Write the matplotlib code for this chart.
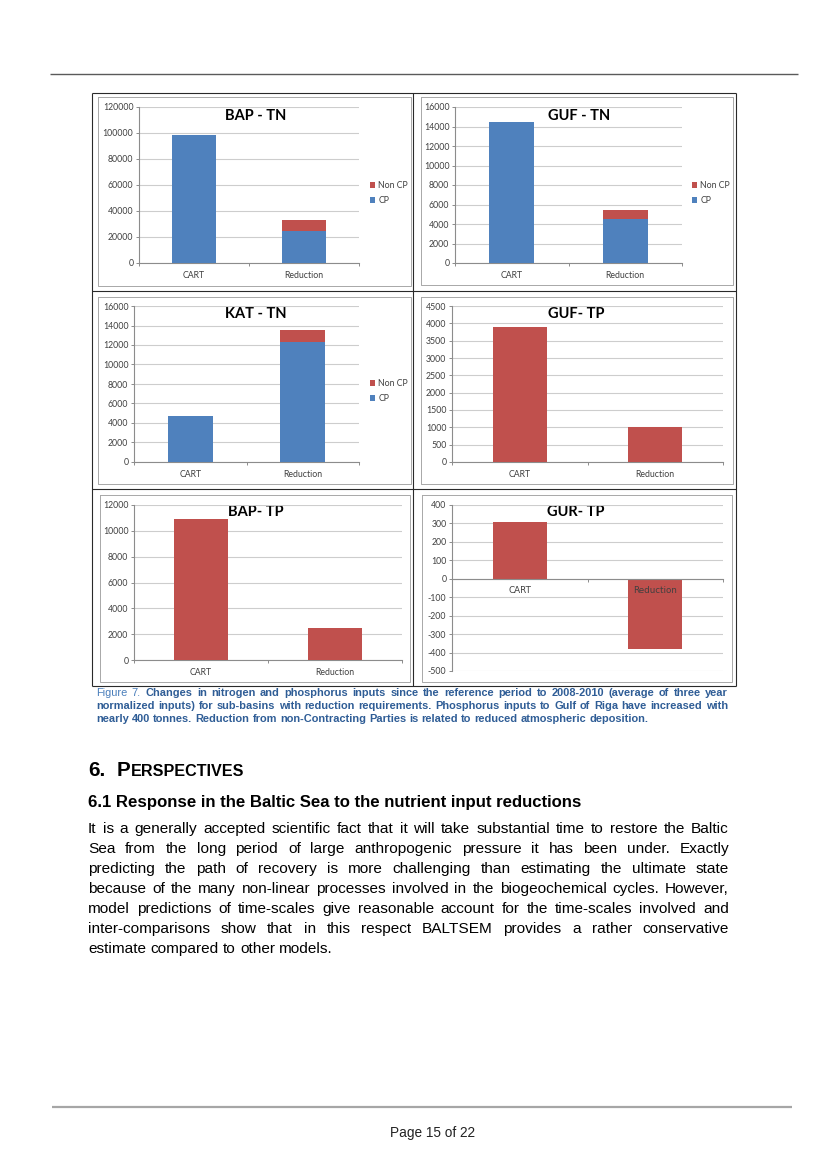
import matplotlib
matplotlib.use('Agg')
import matplotlib.pyplot as plt
import numpy as np

# ---------------- data ----------------
categories = ['CART', 'Reduction']

bap_tn_cp = [98500, 25000]
bap_tn_noncp = [0, 8000]
guf_tn_cp = [14450, 4550]
guf_tn_noncp = [0, 850]
kat_tn_cp = [4750, 12300]
kat_tn_noncp = [0, 1250]
guf_tp = [3900, 1000]
bap_tp = [10900, 2450]
gur_tp = [310, -380]

titles = ['BAP - TN', 'GUF - TN', 'KAT - TN', 'GUF- TP', 'BAP- TP', 'GUR- TP']
legend_labels = ['Non CP', 'CP']

caption_lines = [
    "Figure 7. Changes in nitrogen and phosphorus inputs since the reference period to 2008-2010 (average of three year",
    "normalized inputs) for sub-basins with reduction requirements. Phosphorus inputs to Gulf of Riga have increased with",
    "nearly 400 tonnes. Reduction from non-Contracting Parties is related to reduced atmospheric deposition.",
]
heading_num = "6."
heading_text = "PERSPECTIVES"
subheading = "6.1 Response in the Baltic Sea to the nutrient input reductions"
body_lines = [
    "It is a generally accepted scientific fact that it will take substantial time to restore the Baltic",
    "Sea from the long period of large anthropogenic pressure it has been under. Exactly",
    "predicting the path of recovery is more challenging than estimating the ultimate state",
    "because of the many non-linear processes involved in the biogeochemical cycles. However,",
    "model predictions of time-scales give reasonable account for the time-scales involved and",
    "inter-comparisons show that in this respect BALTSEM provides a rather conservative",
    "estimate compared to other models.",
]
page_text = "Page 15 of 22"

# ---------------- style ----------------
plt.rcParams['axes.unicode_minus'] = False
BLUE = '#4F81BD'
RED = '#C0504D'
TICKC = '#404040'
AXC = '#8c8c8c'
GRIDC = '#cdcdcd'
CHART_FONT = ['Lato', 'DejaVu Sans']
DOC_FONT = ['Liberation Sans', 'DejaVu Sans']

W, H = 827, 1170
fig = plt.figure(figsize=(W / 100, H / 100), dpi=100)
bg = fig.add_axes([0, 0, 1, 1], zorder=0)
bg.set_xlim(0, W)
bg.set_ylim(H, 0)
bg.axis('off')
renderer = fig.canvas.get_renderer()


def rect(x0, y0, x1, y1):
    return [x0 / W, 1 - y1 / H, (x1 - x0) / W, (y1 - y0) / H]


def hline(x0, x1, y, **kw):
    bg.plot([x0, x1], [y, y], solid_capstyle='butt', **kw)


def vline(x, y0, y1, **kw):
    bg.plot([x, x], [y0, y1], solid_capstyle='butt', **kw)


# header / footer rules
hline(50, 798, 74, color='#5a5a5a', lw=1.0)
hline(52, 792, 1107, color='#a6a6a6', lw=1.6)

# table grid
for y in [93, 291, 489, 686]:
    hline(92, 736, y, color='#2a2a2a', lw=0.8)
for x in [92, 413, 736]:
    vline(x, 93, 686, color='#2a2a2a', lw=0.8)

# inner chart frames
frames = [(98, 97, 411, 286), (421, 97, 733, 285), (98, 297, 411, 484),
          (421, 297, 733, 484), (100, 495, 410, 682), (422, 495, 732, 682)]
for (x0, y0, x1, y1) in frames:
    bg.plot([x0, x1, x1, x0, x0], [y0, y0, y1, y1, y0], color='#a8a8a8', lw=0.7)

ax_rects = [(139, 107, 359, 263), (455, 107, 682, 263), (134, 306, 359, 462),
            (452, 306, 723, 462), (134, 505, 402, 660), (452, 505, 723, 671)]
title_pos = [(256, 116), (579, 116), (256, 314), (576, 314), (256, 512), (576, 512)]
ylims = [(0, 120000, 20000), (0, 16000, 2000), (0, 16000, 2000),
         (0, 4500, 500), (0, 12000, 2000), (-500, 400, 100)]
legend_pos = [(370, 181), (692, 181), (370, 379)]


def style_axis(ax, lo, hi, step):
    ax.set_facecolor('none')
    ax.set_ylim(lo, hi)
    ax.set_yticks(np.arange(lo, hi + step / 2, step))
    ax.set_xlim(-0.5, 1.5)
    ax.set_xticks([0, 1])
    ax.set_xticklabels(categories)
    ax.set_xticks([-0.5, 0.5, 1.5], minor=True)
    ax.yaxis.grid(True, color=GRIDC, lw=0.8)
    ax.set_axisbelow(True)
    for s in ['top', 'right']:
        ax.spines[s].set_visible(False)
    for s in ['left', 'bottom']:
        ax.spines[s].set_color(AXC)
        ax.spines[s].set_linewidth(0.8)
    ax.tick_params(axis='y', length=2, width=0.7, color=AXC, pad=2,
                   labelsize=6.3, labelcolor=TICKC)
    ax.tick_params(axis='x', which='major', length=0, pad=5.5,
                   labelsize=6.3, labelcolor=TICKC)
    ax.tick_params(axis='x', which='minor', length=2.5, width=0.7, color=AXC)
    for lab in ax.get_xticklabels() + ax.get_yticklabels():
        lab.set_family(CHART_FONT)


axes = []
for i, r in enumerate(ax_rects):
    ax = fig.add_axes(rect(*r), zorder=2)
    axes.append(ax)

xpos = np.arange(len(categories))
stacked = [(bap_tn_cp, bap_tn_noncp), (guf_tn_cp, guf_tn_noncp), (kat_tn_cp, kat_tn_noncp)]
for i, (cp, ncp) in enumerate(stacked):
    ax = axes[i]
    b1 = ax.bar(xpos, cp, width=0.4, color=BLUE, label='CP', zorder=3)
    b2 = ax.bar(xpos, ncp, width=0.4, bottom=cp, color=RED, label='Non CP', zorder=3)
    lo, hi, st = ylims[i]
    style_axis(ax, lo, hi, st)
    lx, ly = legend_pos[i]
    ax.legend([b2, b1], legend_labels, loc='upper left',
              bbox_to_anchor=(lx / W, 1 - ly / H), bbox_transform=fig.transFigure,
              frameon=False, prop={'family': CHART_FONT, 'size': 6.3},
              handlelength=0.6, handleheight=0.6, handletextpad=0.35,
              labelspacing=0.7, borderpad=0, borderaxespad=0,
              labelcolor=TICKC)

for i, vals in zip([3, 4, 5], [guf_tp, bap_tp, gur_tp]):
    ax = axes[i]
    ax.bar(xpos, vals, width=0.4, color=RED, zorder=3)
    lo, hi, st = ylims[i]
    style_axis(ax, lo, hi, st)

# GUR-TP: category axis crosses at zero, labels drawn over the bars
axes[5].spines['bottom'].set_position(('data', 0))
axes[5].spines['bottom'].set_zorder(4)
axes[5].xaxis.set_zorder(4)

for (tx, ty), t in zip(title_pos, titles):
    bg.text(tx, ty, t, ha='center', va='center', fontsize=10.5, fontweight='bold',
            family=CHART_FONT, color='#000000', zorder=10)


# ---------------- document text ----------------
def text_width(s, size, **kw):
    t = bg.text(0, 0, s, fontsize=size, **kw)
    w = t.get_window_extent(renderer).width
    t.remove()
    return w


def fit_size(s, target, **kw):
    return 10 * target / text_width(s, 10, **kw)


def place_words(parts, x0, x1, y, size, justify=True):
    texts = []
    for w, kw in parts:
        texts.append(bg.text(0, y, w, fontsize=size, ha='left', va='center', **kw))
    widths = [t.get_window_extent(renderer).width for t in texts]
    if justify and len(texts) > 1:
        gap = (x1 - x0 - sum(widths)) / (len(texts) - 1)
    else:
        gap = 0.278 * size * 100 / 72
    x = x0
    for t, w in zip(texts, widths):
        t.set_x(x)
        x += w + gap


# caption
cap_dark = dict(family=DOC_FONT, fontweight='bold', color='#2f5d96')
cap_light = dict(family=DOC_FONT, fontweight='normal', color='#4a7ebb')
cap_size = fit_size(caption_lines[1], 622, **cap_dark)
cap_y = [693, 706, 719]
for li, (line, y) in enumerate(zip(caption_lines, cap_y)):
    words = line.split(' ')
    parts = []
    for wi, w in enumerate(words):
        if li == 0 and wi < 2:
            parts.append((w, cap_light))
        else:
            parts.append((w, cap_dark))
    place_words(parts, 96, 728, y, cap_size, justify=(li < 2))

# heading with small caps
hkw = dict(family=DOC_FONT, fontweight='bold', color='#000000')
big = 12.0
small = big * 0.78
wtot = (text_width(heading_num, big, **hkw) + text_width('  ', big, **hkw)
        + text_width(heading_text[0], big, **hkw) + text_width(heading_text[1:], small, **hkw))
scale = (243 - 88) / wtot
big *= scale
small *= scale
x = 88
bg.text(x, 776, heading_num, fontsize=big, ha='left', va='baseline', **hkw)
x += text_width(heading_num, big, **hkw) + text_width('  ', big, **hkw)
bg.text(x, 776, heading_text[0], fontsize=big, ha='left', va='baseline', **hkw)
x += text_width(heading_text[0], big, **hkw)
bg.text(x, 776, heading_text[1:], fontsize=small, ha='left', va='baseline', **hkw)

# sub heading
sub_size = fit_size(subheading, 583 - 88, **hkw)
bg.text(88, 803, subheading, fontsize=sub_size, ha='left', va='center', **hkw)

# body
bkw = dict(family=DOC_FONT, color='#000000')
body_size = fit_size(body_lines[3], 628, **bkw)
for i, line in enumerate(body_lines):
    y = 829 + 20 * i
    parts = [(w, bkw) for w in line.split(' ')]
    place_words(parts, 88, 729, y, body_size, justify=(i < len(body_lines) - 1))

# page number
pkw = dict(family=DOC_FONT, color='#222222')
p_size = fit_size(page_text, 85, **pkw)
bg.text(432, 1133, page_text, fontsize=p_size, ha='center', va='center', **pkw)

fig.savefig('out.png', dpi=100)
